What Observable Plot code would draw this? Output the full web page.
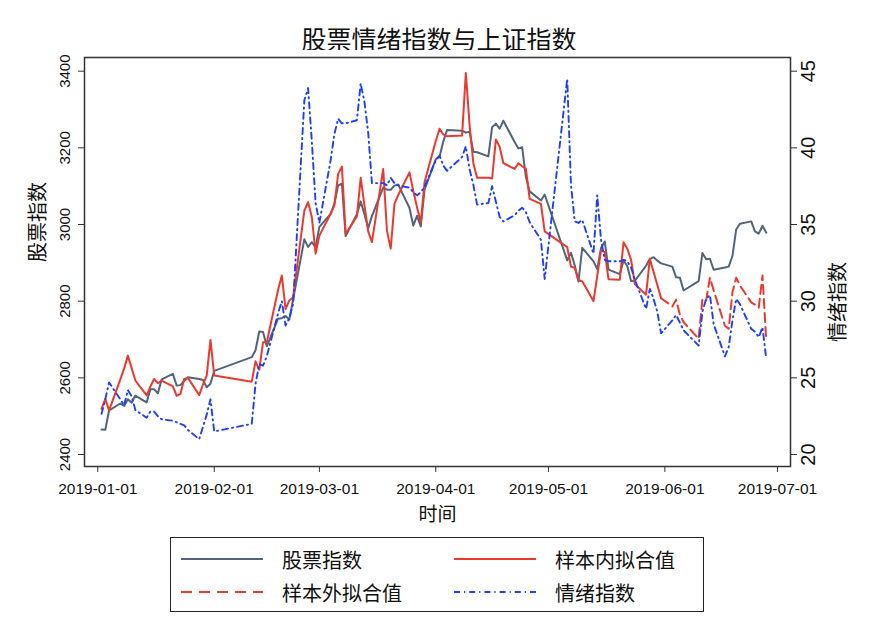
<!DOCTYPE html>
<html><head><meta charset="utf-8">
<script src="https://cdn.jsdelivr.net/npm/d3@7"></script>
<script src="https://cdn.jsdelivr.net/npm/@observablehq/plot@0.6"></script>
<style>
body{margin:0;background:#fff;}
#wrap{position:relative;width:878px;height:638px;font-family:"Noto Sans CJK SC",sans-serif;color:#111;}
#title{position:absolute;left:0;top:22px;width:878px;text-align:center;font-size:25px;line-height:32px;}
#chart{position:absolute;left:0;top:50px;}
#legend{position:absolute;left:170px;top:537px;width:534px;height:75px;border:1px solid #222;box-sizing:border-box;background:#fff;}
.item{position:absolute;height:28px;display:flex;align-items:center;font-size:20px;white-space:nowrap;}
.item svg{margin-right:19px;}
</style></head>
<body>
<div id="wrap">
  <div id="title">股票情绪指数与上证指数</div>
  <div id="chart"></div>
  <div id="legend"></div>
</div>
<script>
const dates = [
"2019-01-02","2019-01-03","2019-01-04","2019-01-07","2019-01-08","2019-01-09","2019-01-10","2019-01-11",
"2019-01-14","2019-01-15","2019-01-16","2019-01-17","2019-01-18",
"2019-01-21","2019-01-22","2019-01-23","2019-01-24","2019-01-25",
"2019-01-28","2019-01-29","2019-01-30","2019-01-31","2019-02-01",
"2019-02-11","2019-02-12","2019-02-13","2019-02-14","2019-02-15",
"2019-02-18","2019-02-19","2019-02-20","2019-02-21","2019-02-22",
"2019-02-25","2019-02-26","2019-02-27","2019-02-28","2019-03-01",
"2019-03-04","2019-03-05","2019-03-06","2019-03-07","2019-03-08",
"2019-03-11","2019-03-12","2019-03-13","2019-03-14","2019-03-15",
"2019-03-18","2019-03-19","2019-03-20","2019-03-21","2019-03-22",
"2019-03-25","2019-03-26","2019-03-27","2019-03-28","2019-03-29",
"2019-04-01","2019-04-02","2019-04-03","2019-04-04",
"2019-04-08","2019-04-09","2019-04-10","2019-04-11","2019-04-12",
"2019-04-15","2019-04-16","2019-04-17","2019-04-18","2019-04-19",
"2019-04-22","2019-04-23","2019-04-24","2019-04-25","2019-04-26",
"2019-04-29","2019-04-30",
"2019-05-06","2019-05-07","2019-05-08","2019-05-09","2019-05-10",
"2019-05-13","2019-05-14","2019-05-15","2019-05-16","2019-05-17",
"2019-05-20","2019-05-21","2019-05-22","2019-05-23","2019-05-24",
"2019-05-27","2019-05-28","2019-05-29","2019-05-30","2019-05-31",
"2019-06-03","2019-06-04","2019-06-05","2019-06-06",
"2019-06-10","2019-06-11","2019-06-12","2019-06-13","2019-06-14",
"2019-06-17","2019-06-18","2019-06-19","2019-06-20","2019-06-21",
"2019-06-24","2019-06-25","2019-06-26","2019-06-27","2019-06-28"
];
// 股票指数 (上证指数)
const stockIndex = [
2465.29,2464.36,2514.87,2533.09,2526.46,2544.34,2535.10,2553.83,2535.77,2570.35,2570.42,2559.64,2596.01,2610.51,2579.70,2581.00,2591.69,2601.72,2596.98,2594.25,2575.58,2584.57,
2618.23,2653.90,2671.89,2721.07,2719.70,2682.39,2754.36,2755.65,2761.22,2751.80,2804.23,2961.28,2941.52,2953.82,2940.95,
2994.01,3027.58,3054.25,3102.10,3106.42,2969.86,3026.99,3060.31,3026.95,2990.69,3021.75,3096.42,3090.98,3090.64,3101.46,3104.15,3043.03,2997.10,3022.72,2994.94,3090.76,
3170.36,3176.82,3216.30,3246.57,3244.81,3239.66,3241.93,3189.96,3188.63,3177.79,3253.60,3263.12,3250.20,3270.80,3215.04,3198.59,3201.61,3123.83,3086.40,3062.50,3078.34,
2906.46,2926.39,2893.76,2850.95,2939.21,2903.71,2883.61,2938.68,2955.71,2882.30,2870.60,2905.97,2891.70,2852.52,2852.99,2892.38,2909.91,2914.70,2905.81,2898.70,
2890.08,2862.28,2861.42,2827.80,2852.13,2925.72,2909.38,2910.74,2881.97,2887.62,2890.16,2917.80,2987.12,3001.98,3008.15,2982.07,2976.28,2996.79,2978.88
];
// 样本内拟合值 (2019-01-02 .. 2019-05-31)
const inSampleFit = [
2519,2545,2515,2596,2624,2658,2626,2593,2554,2577,2597,2586,2593,2578,2553,2558,2597,2600,2555,2582,2606,2699,
2606,2590,2643,2621,2693,2693,2829,2867,2779,2802,2810,3036,3058,3019,2924,
2971,3028,3050,3132,3151,2976,3021,3122,3050,2982,2954,3145,2984,2937,3054,3077,3136,3088,3045,3005,3110,
3218,3250,3235,3230,3232,3395,3260,3160,3122,3122,3120,3222,3203,3160,3145,3160,3152,3145,3067,3054,2982,
2941,2890,2887,2854,2852,2800,2866,2932,2928,2857,2856,2954,2937,2908,2845,2817,2911,2876,2842,2808
];
// 样本外拟合值 (2019-06-03 .. 2019-06-28)
const outSampleFit = [
2786,2804,2765,2745,2702,2806,2802,2861,2828,2736,2728,2823,2861,2841,2797,2791,2783,2867,2697
];
// 情绪指数
const sentiment = [
22.65,23.6,24.7,23.6,23.2,24.2,23.8,22.9,22.4,22.8,22.8,22.5,22.3,22.2,22.1,22.0,21.9,21.6,21.0,21.8,22.6,23.6,
21.5,22.0,24.6,25.9,25.8,26.4,29.2,30.0,28.4,28.9,29.8,43.1,43.9,40.4,36.4,
35.1,39.2,40.9,41.9,41.6,41.6,41.8,44.2,43.0,41.0,37.7,37.7,37.55,38.05,37.7,37.55,37.4,37.1,36.9,37.1,37.45,
39.2,39.5,38.85,38.5,39.4,40.1,38.6,37.6,36.3,36.4,37.5,36.5,35.5,35.2,35.6,35.9,36.1,35.8,35.15,34.0,31.45,
44.5,37.6,35.2,35.1,35.3,33.1,36.9,34.0,32.7,32.6,32.6,32.7,32.6,32.2,31.4,29.5,30.8,30.15,29.3,27.9,
28.75,29.1,28.6,28.1,27.1,29.3,30.15,30.4,28.5,26.4,27.0,28.75,30.15,29.8,28.2,28.0,27.65,28.3,26.25
];
const xTickLabels = ["2019-01-01","2019-02-01","2019-03-01","2019-04-01","2019-05-01","2019-06-01","2019-07-01"];
const leftTicks = [2400,2600,2800,3000,3200,3400];
const rightTicks = [20,25,30,35,40,45];

const parse = d3.utcParse("%Y-%m-%d");
const s2y = d3.scaleLinear().domain([20,45]).range([2400,3400]);
const rows = dates.map((d,i)=>({date: parse(d), stock: stockIndex[i], sent: sentiment[i]}));
const fitIn = inSampleFit.map((v,i)=>({date: parse(dates[i]), v}));
const fitOut = [fitIn[fitIn.length-1]].concat(outSampleFit.map((v,i)=>({date: parse(dates[inSampleFit.length+i]), v})));

const C_GRAY="#50657a", C_RED="#ea3a2f", C_BLUE="#1d3dff";
const cjk = "Noto Sans CJK SC";
const BLUE_DASH = "6,4,1.2,4";

const chart = Plot.plot({
  width: 878, height: 480,
  marginLeft: 84, marginRight: 88, marginTop: 7, marginBottom: 64,
  style: {fontFamily: "Liberation Sans, Arial, sans-serif", background: "white", color: "#111", overflow: "visible"},
  x: {type: "utc", domain: [new Date(Date.UTC(2018,11,28,11)), new Date(Date.UTC(2019,6,4,11))]},
  y: {domain: [2368.7, 3435.7]},
  marks: [
    Plot.line(rows, {x: "date", y: "stock", stroke: C_GRAY, strokeWidth: 2}),
    Plot.line(fitIn, {x: "date", y: "v", stroke: C_RED, strokeWidth: 2}),
    Plot.line(fitOut, {x: "date", y: "v", stroke: C_RED, strokeWidth: 2, strokeDasharray: "9,5"}),
    Plot.line(rows, {x: "date", y: d => s2y(d.sent), stroke: C_BLUE, strokeWidth: 1.9, strokeDasharray: BLUE_DASH}),
    Plot.frame({stroke: "#333", strokeWidth: 1.5}),
    Plot.axisX({ticks: xTickLabels.map(parse), tickFormat: d3.utcFormat("%Y-%m-%d"), tickSize: 6, tickPadding: 10, fontSize: 15.5, label: null, stroke: "#333"}),
    Plot.axisY({anchor: "left", ticks: leftTicks, tickFormat: d => String(d), tickSize: 6, tickRotate: -90, tickPadding: 9, fontSize: 15, label: null, stroke: "#333"}),
    Plot.axisY({anchor: "right", ticks: rightTicks.map(s2y), tickFormat: d => String(Math.round(s2y.invert(d))), tickSize: 6, tickRotate: -90, lineAnchor: "top", tickPadding: 4, fontSize: 20, label: null, stroke: "#333"}),
    Plot.text(["股票指数"], {frameAnchor: "left", dx: -46, rotate: -90, fontSize: 20, fontFamily: cjk, fill: "#111"}),
    Plot.text(["情绪指数"], {frameAnchor: "right", dx: 48, rotate: -90, fontSize: 20, fontFamily: cjk, fill: "#111"}),
    Plot.text(["时间"], {frameAnchor: "bottom", dy: 54, fontSize: 19, fontFamily: cjk, fill: "#111"})
  ]
});
document.getElementById("chart").appendChild(chart);

// legend
const legendItems = [
  {label: "股票指数", color: C_GRAY, dash: null, left: 10, top: 7},
  {label: "样本内拟合值", color: C_RED, dash: null, left: 283, top: 7},
  {label: "样本外拟合值", color: C_RED, dash: "11,7", left: 10, top: 40},
  {label: "情绪指数", color: C_BLUE, dash: BLUE_DASH, left: 283, top: 40}
];
const lg = document.getElementById("legend");
for (const it of legendItems) {
  const div = document.createElement("div");
  div.className = "item";
  div.style.left = it.left + "px";
  div.style.top = it.top + "px";
  div.innerHTML = `<svg width="82" height="6"><line x1="0" y1="3" x2="82" y2="3" stroke="${it.color}" stroke-width="2" ${it.dash ? `stroke-dasharray="${it.dash}"` : ""}/></svg><span>${it.label}</span>`;
  lg.appendChild(div);
}
</script>
</body></html>
